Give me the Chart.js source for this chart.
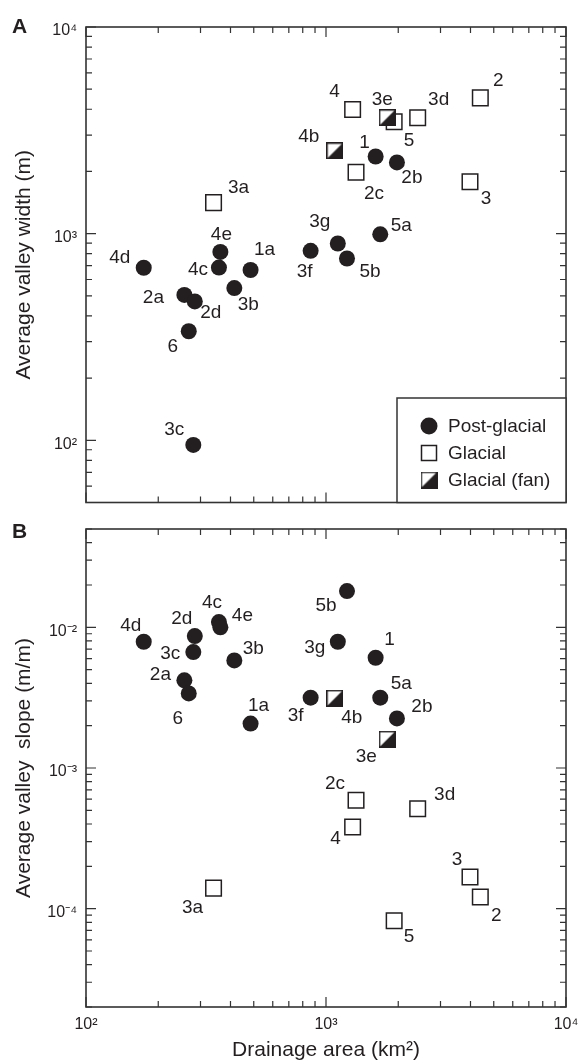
<!DOCTYPE html>
<html>
<head>
<meta charset="utf-8">
<title>Valley width and slope vs drainage area</title>
<script src="https://cdn.jsdelivr.net/npm/chart.js@4.4.1/dist/chart.umd.min.js"></script>
<style>
  html, body { margin: 0; padding: 0; background: #fff; }
  #figure { position: relative; width: 579px; height: 1064px; overflow: hidden; }
  .panel { position: absolute; left: 0; width: 579px; }
  .panel-letter { position: absolute; left: 12px; font: bold 21px 'Liberation Sans', Arial, sans-serif; color: #231f20; line-height: 1; }
</style>
</head>
<body>
<div id="figure">
  <div class="panel" style="top:0;height:515px"><canvas id="chart-a"></canvas></div>
  <div class="panel" style="top:515px;height:549px"><canvas id="chart-b"></canvas></div>
  <div class="panel-letter" style="top:15px">A</div>
  <div class="panel-letter" style="top:520px">B</div>
</div>
<script>
// --- data ---
const siteLabelsPost = ['1', '1a', '2a', '2b', '2d', '3b', '3c', '3f', '3g', '4c', '4d', '4e', '5a', '5b', '6'];
const areaPost  = [1610, 485, 257, 1975, 284, 415, 280, 863, 1120, 358, 174, 363, 1683, 1223, 268];
const widthPost = [2362, 667, 505, 2212, 470, 545, 95, 826, 896, 685, 684, 816, 992, 758, 337];
const slopePost = [0.00608, 0.00207, 0.0042, 0.00225, 0.00867, 0.00582, 0.00667, 0.00316, 0.0079, 0.0109, 0.0079, 0.0100, 0.00316, 0.0181, 0.00339];

const siteLabelsGlacial = ['2', '2c', '3', '3a', '3d', '4', '5'];
const areaGlacial  = [4395, 1334, 3981, 340, 2410, 1291, 1923];
const widthGlacial = [4540, 1982, 1783, 1413, 3640, 3990, 3480];
const slopeGlacial = [0.000121, 0.00059, 0.000168, 0.00014, 0.000513, 0.000381, 0.000082];

const siteLabelsFan = ['3e', '4b'];
const areaFan  = [1799, 1088];
const widthFan = [3640, 2514];
const slopeFan = [0.0016, 0.00313];

const seriesNames = ['Post-glacial', 'Glacial', 'Glacial (fan)'];

// axis ranges
const areaRange  = [100, 10000];
const widthRange = [50, 10000];
const slopeRange = [0.00002, 0.05];

// --- styling ---
const ink = '#231f20';
const axisInk = '#333';
const family = "'Liberation Sans', Arial, sans-serif";

// label offsets from the point centre (px)
const labelOffsetsA = {
  '1': [-11, -14], '1a': [14, -20], '2a': [-31, 3], '2b': [15, 15], '2d': [16, 11], '3b': [14, 17],
  '3c': [-19, -15], '3f': [-6, 21], '3g': [-18, -22], '4c': [-21, 2], '4d': [-24, -10], '4e': [1, -17],
  '5a': [21, -9], '5b': [23, 13], '6': [-16, 16],
  '2': [18, -17], '2c': [18, 22], '3': [16, 17], '3a': [25, -15], '3d': [21, -18], '4': [-18, -18], '5': [15, 19],
  '3e': [-5, -18], '4b': [-26, -14]
};
const labelOffsetsB = {
  '1': [14, -18], '1a': [8, -18], '2a': [-24, -6], '2b': [25, -12], '2d': [-13, -17], '3b': [19, -12],
  '3c': [-23, 2], '3f': [-15, 18], '3g': [-23, 6], '4c': [-7, -19], '4d': [-13, -16], '4e': [22, -12],
  '5a': [21, -14], '5b': [-21, 15], '6': [-11, 25],
  '2': [16, 19], '2c': [-21, -16], '3': [-13, -17], '3a': [-21, 20], '3d': [27, -14], '4': [-17, 12], '5': [15, 16],
  '3e': [-21, 17], '4b': [17, 19]
};

// log ticks 1..9 x 10^n inside a range
function logTicks(min, max) {
  const out = [];
  for (let e = Math.floor(Math.log10(min)); e <= Math.ceil(Math.log10(max)); e++) {
    for (let m = 1; m <= 9; m++) {
      const v = parseFloat((m * Math.pow(10, e)).toPrecision(6));
      if (v >= min * 0.999 && v <= max * 1.001) out.push(v);
    }
  }
  return out;
}
const areaTicks = logTicks(areaRange[0], areaRange[1]);
const widthTicks = logTicks(widthRange[0], widthRange[1]);
const slopeTicks = logTicks(slopeRange[0], slopeRange[1]);

const SUP = { '-': '\u207B', '0': '\u2070', '1': '\u00B9', '2': '\u00B2', '3': '\u00B3', '4': '\u2074',
              '5': '\u2075', '6': '\u2076', '7': '\u2077', '8': '\u2078', '9': '\u2079' };
function isDecade(v) {
  const e = Math.log10(v);
  return Math.abs(e - Math.round(e)) < 1e-6;
}
function powerLabel(value) {
  if (!isDecade(value)) return '';
  return '10' + String(Math.round(Math.log10(value))).split('').map(c => SUP[c]).join('');
}

// half-filled square marker for the fan sites
function makeFanIcon(size) {
  const c = document.createElement('canvas');
  c.width = c.height = size;
  const g = c.getContext('2d');
  const lw = 1.5, a = lw / 2, b = size - lw / 2;
  g.fillStyle = '#fff';
  g.fillRect(a, a, b - a, b - a);
  g.beginPath();
  g.moveTo(a, b); g.lineTo(b, a); g.lineTo(b, b); g.closePath();
  g.fillStyle = ink;
  g.fill();
  g.lineWidth = lw;
  g.strokeStyle = ink;
  g.strokeRect(a, a, b - a, b - a);
  return c;
}
const fanIcon = makeFanIcon(17);

function toPoints(xs, ys) {
  return xs.map((x, i) => ({ x, y: ys[i] }));
}

function buildDatasets(postY, glacialY, fanY) {
  // index 0 is drawn last (on top)
  return [
    { label: seriesNames[0], siteLabels: siteLabelsPost, data: toPoints(areaPost, postY),
      pointStyle: 'circle', pointRadius: 8, pointBackgroundColor: ink, pointBorderColor: ink, pointBorderWidth: 0 },
    { label: seriesNames[2], siteLabels: siteLabelsFan, data: toPoints(areaFan, fanY),
      pointStyle: fanIcon, pointRadius: 9 },
    { label: seriesNames[1], siteLabels: siteLabelsGlacial, data: toPoints(areaGlacial, glacialY),
      pointStyle: 'rect', pointRadius: 11, pointBackgroundColor: '#fff', pointBorderColor: ink, pointBorderWidth: 1.5 }
  ];
}

// --- plugins ---
const frameTicks = {
  id: 'frameTicks',
  afterDraw(chart, args, opts) {
    const { ctx, chartArea: a, scales } = chart;
    ctx.save();
    ctx.strokeStyle = axisInk;
    ctx.lineWidth = 1.2;
    ctx.beginPath();
    opts.xTicks.forEach(v => {
      const p = scales.x.getPixelForValue(v);
      const len = isDecade(v) ? 10 : 6;
      ctx.moveTo(p, a.top); ctx.lineTo(p, a.top + len);
      ctx.moveTo(p, a.bottom); ctx.lineTo(p, a.bottom - len);
    });
    opts.yTicks.forEach(v => {
      const p = scales.y.getPixelForValue(v);
      const len = isDecade(v) ? 10 : 6;
      ctx.moveTo(a.left, p); ctx.lineTo(a.left + len, p);
      ctx.moveTo(a.right, p); ctx.lineTo(a.right - len, p);
    });
    ctx.stroke();
    ctx.lineWidth = 1.6;
    ctx.strokeRect(a.left, a.top, a.right - a.left, a.bottom - a.top);
    ctx.restore();
  }
};

const siteNames = {
  id: 'siteNames',
  afterDatasetsDraw(chart, args, opts) {
    const { ctx } = chart;
    ctx.save();
    ctx.font = '19px ' + family;
    ctx.fillStyle = ink;
    ctx.textAlign = 'center';
    ctx.textBaseline = 'middle';
    chart.data.datasets.forEach((ds, i) => {
      chart.getDatasetMeta(i).data.forEach((pt, j) => {
        const name = ds.siteLabels[j];
        const off = opts.offsets[name] || [14, -14];
        ctx.fillText(name, pt.x + off[0], pt.y + off[1]);
      });
    });
    ctx.restore();
  }
};

const boxLegend = {
  id: 'boxLegend',
  afterDraw(chart, args, opts) {
    if (!opts.show) return;
    const { ctx, chartArea: a } = chart;
    const left = 397, top = 398;
    ctx.save();
    ctx.fillStyle = '#fff';
    ctx.fillRect(left, top, a.right - left, a.bottom - top);
    ctx.strokeStyle = axisInk;
    ctx.lineWidth = 1.5;
    ctx.strokeRect(left, top, a.right - left, a.bottom - top);
    ctx.font = '19px ' + family;
    ctx.textAlign = 'left';
    ctx.textBaseline = 'middle';
    seriesNames.forEach((name, k) => {
      const cy = top + 28 + k * 27;
      const cx = 429;
      if (k === 0) {
        ctx.beginPath();
        ctx.arc(cx, cy, 8.5, 0, Math.PI * 2);
        ctx.fillStyle = ink;
        ctx.fill();
      } else if (k === 1) {
        ctx.fillStyle = '#fff';
        ctx.fillRect(cx - 7.5, cy - 7.5, 15, 15);
        ctx.strokeStyle = ink;
        ctx.lineWidth = 1.5;
        ctx.strokeRect(cx - 7.5, cy - 7.5, 15, 15);
      } else {
        ctx.drawImage(fanIcon, cx - 8.5, cy - 8.5);
      }
      ctx.fillStyle = ink;
      ctx.fillText(name, 448, cy + 1);
    });
    ctx.restore();
  }
};

const noGrid = { display: false, drawTicks: false, tickLength: 0 };

function yScale(range, ticks, title) {
  return {
    type: 'logarithmic', min: range[0], max: range[1],
    afterBuildTicks: s => { s.ticks = ticks.map(v => ({ value: v })); },
    afterFit: s => { s.width = 86; s.paddingTop = 0; s.paddingBottom = 0; },
    grid: noGrid, border: { display: false },
    ticks: { autoSkip: false, padding: 9, labelOffset: 4, color: ink, font: { family, size: 16 }, callback: powerLabel },
    title: { display: true, text: title, color: ink, font: { family, size: 21 }, padding: { top: 12, bottom: 0 } }
  };
}

function baseOptions(padding) {
  return {
    responsive: true,
    maintainAspectRatio: false,
    animation: false,
    events: [],
    layout: { padding },
    plugins: { legend: { display: false }, tooltip: { enabled: false } }
  };
}

// --- panel A: valley width ---
const optsA = baseOptions({ top: 27, right: 13, bottom: 8, left: 0 });
optsA.scales = {
  x: { type: 'logarithmic', min: areaRange[0], max: areaRange[1], display: false },
  y: yScale(widthRange, widthTicks, 'Average valley width (m)')
};
optsA.plugins.frameTicks = { xTicks: areaTicks, yTicks: widthTicks };
optsA.plugins.siteNames = { offsets: labelOffsetsA };
optsA.plugins.boxLegend = { show: true };

new Chart(document.getElementById('chart-a'), {
  type: 'scatter',
  data: { datasets: buildDatasets(widthPost, widthGlacial, widthFan) },
  options: optsA,
  plugins: [frameTicks, siteNames, boxLegend]
});

// --- panel B: valley slope ---
const optsB = baseOptions({ top: 14, right: 13, bottom: 0, left: 0 });
optsB.scales = {
  x: {
    type: 'logarithmic', min: areaRange[0], max: areaRange[1],
    afterBuildTicks: s => { s.ticks = areaTicks.map(v => ({ value: v })); },
    afterFit: s => { s.height = 57; s.paddingLeft = 0; s.paddingRight = 0; },
    grid: noGrid, border: { display: false },
    ticks: { autoSkip: false, maxRotation: 0, padding: 8, color: ink, font: { family, size: 16 }, callback: powerLabel },
    title: { display: true, text: 'Drainage area (km\u00B2)', color: ink, font: { family, size: 21 }, padding: { top: 0, bottom: 1 } }
  },
  y: yScale(slopeRange, slopeTicks, 'Average valley  slope (m/m)')
};
optsB.plugins.frameTicks = { xTicks: areaTicks, yTicks: slopeTicks };
optsB.plugins.siteNames = { offsets: labelOffsetsB };
optsB.plugins.boxLegend = { show: false };

new Chart(document.getElementById('chart-b'), {
  type: 'scatter',
  data: { datasets: buildDatasets(slopePost, slopeGlacial, slopeFan) },
  options: optsB,
  plugins: [frameTicks, siteNames, boxLegend]
});
</script>
</body>
</html>
